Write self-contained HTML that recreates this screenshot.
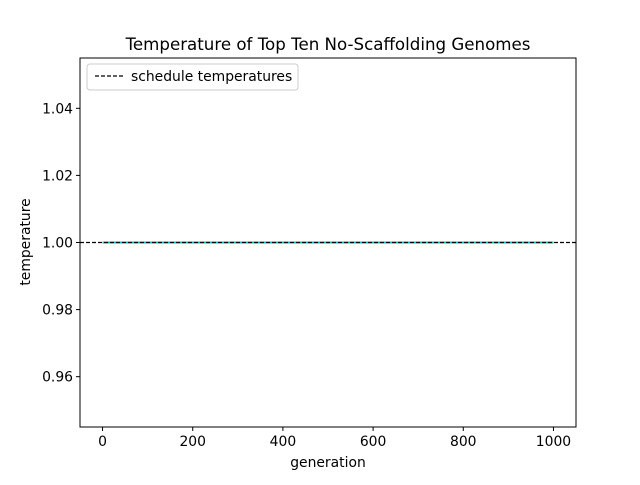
<!DOCTYPE html>
<html><head><meta charset="utf-8"><style>
body{margin:0;background:#fff;}
svg text{font-family:"DejaVu Sans","Liberation Sans",sans-serif;fill:#000;}
</style></head><body>
<svg id="chart" width="640" height="480" xmlns="http://www.w3.org/2000/svg">
<rect width="640" height="480" fill="#fff"/>
<text x="328" y="50" font-size="16.67" text-anchor="middle">Temperature of Top Ten No-Scaffolding Genomes</text>
<g id="plot"></g>
<rect x="80" y="58" width="496" height="369" fill="none" stroke="#000" stroke-width="1"/>
<text x="328" y="467" font-size="13.9" text-anchor="middle">generation</text>
<text transform="translate(30,242) rotate(-90)" font-size="13.9" text-anchor="middle">temperature</text>
<g>
<rect x="87" y="64" width="211" height="26" rx="3" fill="#fff" stroke="#ccc"/>
<line x1="95" y1="76" x2="123" y2="76" stroke="#000" stroke-dasharray="4,2" stroke-width="1.2"/>
<text x="131" y="81" font-size="13.9">schedule temperatures</text>
</g>
</svg>
<script>
const xTicks=[0,200,400,600,800,1000];
const yTicks=[0.96,0.98,1.00,1.02,1.04];
const yTickLabels=["0.96","0.98","1.00","1.02","1.04"];
const generations=[0,1000];
const genomeTemps=[[1,1],[1,1],[1,1],[1,1],[1,1],[1,1],[1,1],[1,1],[1,1],[1,1]];
const scheduleTemp=1.0;
const colors=["#1f77b4","#ff7f0e","#2ca02c","#d62728","#9467bd","#8c564b","#e377c2","#7f7f7f","#bcbd22","#17becf"];
const X=v=>80+(v+50)/1100*496;
const Y=v=>427-(v-0.945)/0.11*369;
const ns="http://www.w3.org/2000/svg";
const g=document.getElementById('plot');
function mk(t,a,p){const e=document.createElementNS(ns,t);for(const k in a)e.setAttribute(k,a[k]);(p||g).appendChild(e);return e;}
xTicks.forEach(v=>{
  const l=mk('line',{x1:X(v),x2:X(v),y1:427,y2:431,stroke:'#000'});
  
  
  const t=mk('text',{x:X(v),y:446,'font-size':13.9,'text-anchor':'middle'});t.textContent=v;
  
  
});
yTicks.forEach((v,i)=>{
  const l=mk('line',{x1:76,x2:80,y1:Y(v),y2:Y(v),stroke:'#000'});
  
  
  const t=mk('text',{x:73,y:Y(v)+5,'font-size':13.9,'text-anchor':'end'});t.textContent=yTickLabels[i];
  
  
});
genomeTemps.forEach((s,i)=>{
  const pts=s.map((v,j)=>X(generations[j])+','+Y(v)).join(' ');
  const p=mk('polyline',{points:pts,fill:'none',stroke:colors[i],'stroke-width':1.5});
  
  
});
const h=mk('line',{x1:80,x2:576,y1:Y(scheduleTemp),y2:Y(scheduleTemp),stroke:'#000','stroke-dasharray':'4,2','stroke-width':1.2});


</script>
</body></html>
